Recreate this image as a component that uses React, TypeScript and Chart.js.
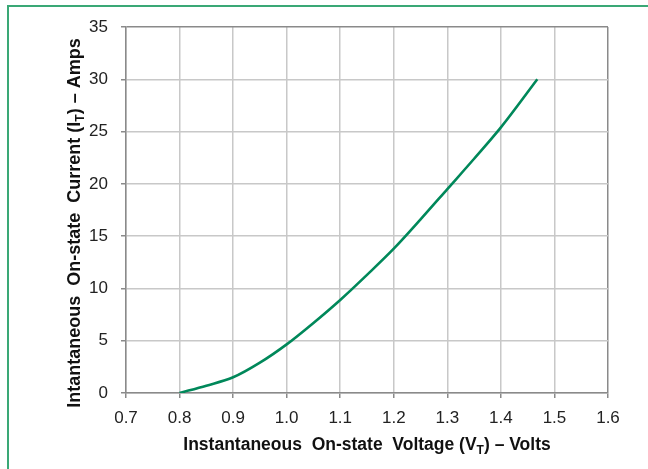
import React, { useEffect, useRef } from "react";
import { Chart, registerables } from "chart.js";

Chart.register(...registerables);

const voltage = [0.8, 0.85, 0.9, 0.95, 1.0, 1.05, 1.1, 1.15, 1.2, 1.25, 1.3, 1.35, 1.4, 1.468];
const current = [0, 0.7, 1.5, 2.9, 4.65, 6.7, 8.9, 11.3, 13.8, 16.6, 19.5, 22.4, 25.4, 30];
const xTicks = [0.7, 0.8, 0.9, 1.0, 1.1, 1.2, 1.3, 1.4, 1.5, 1.6];
const yTicks = [0, 5, 10, 15, 20, 25, 30, 35];
const xTitleParts = [
  { text: "Instantaneous  On-state  Voltage (V" },
  { text: "T", sub: true },
  { text: ") – Volts" },
];
const yTitleParts = [
  { text: "Intantaneous  On-state  Current (I" },
  { text: "T", sub: true },
  { text: ") – Amps" },
];

const FONT = "'Liberation Sans', Arial, sans-serif";
const GREEN = "#00885a";
const GRID = "#c8c8c8";
const FRAME = "#8a8a8a";

type Part = { text: string; sub?: boolean };

function drawRich(ctx: CanvasRenderingContext2D, parts: Part[], cx: number, baseline: number, size: number) {
  const mainFont = `bold ${size}px ${FONT}`;
  const subFont = `bold ${Math.round(size * 0.68)}px ${FONT}`;
  let total = 0;
  const widths = parts.map((p) => {
    ctx.font = p.sub ? subFont : mainFont;
    const w = ctx.measureText(p.text).width;
    total += w;
    return w;
  });
  let x = cx - total / 2;
  ctx.textAlign = "left";
  ctx.textBaseline = "alphabetic";
  ctx.fillStyle = "#111";
  parts.forEach((p, i) => {
    ctx.font = p.sub ? subFont : mainFont;
    ctx.fillText(p.text, x, p.sub ? baseline + 4 : baseline);
    x += widths[i];
  });
}

const titlePlugin = {
  id: "richTitles",
  afterDraw(chart: any) {
    const { ctx, chartArea } = chart;
    ctx.save();
    drawRich(ctx, xTitleParts, (chartArea.left + chartArea.right) / 2, 450, 17.5);
    ctx.restore();
    ctx.save();
    ctx.translate(80, (chartArea.top + chartArea.bottom) / 2 + 13);
    ctx.rotate(-Math.PI / 2);
    drawRich(ctx, yTitleParts, 0, 0, 18);
    ctx.restore();
  },
};

export default function App() {
  const ref = useRef<HTMLCanvasElement>(null);
  useEffect(() => {
    if (!ref.current) return;
    const chart = new Chart(ref.current, {
      type: "line",
      data: {
        datasets: [
          {
            data: voltage.map((v, i) => ({ x: v, y: current[i] })),
            borderColor: GREEN,
            borderWidth: 2.6,
            pointRadius: 0,
            cubicInterpolationMode: "monotone",
            fill: false,
          },
        ],
      },
      options: {
        animation: false,
        responsive: false,
        maintainAspectRatio: false,
        layout: { padding: { left: 0, right: 40, top: 27, bottom: 0 } },
        plugins: { legend: { display: false }, tooltip: { enabled: false } },
        scales: {
          x: {
            type: "linear",
            min: 0.7,
            max: 1.6,
            afterBuildTicks: (scale: any) => {
              scale.ticks = xTicks.map((v) => ({ value: v }));
            },
            afterFit: (scale: any) => {
              scale.height = 76;
            },
            ticks: {
              callback: (v: any) => Number(v).toFixed(1),
              font: { family: FONT, size: 17 },
              color: "#222",
              padding: 10,
              maxRotation: 0,
            },
            grid: {
              color: (c: any) => (c.tick && Math.abs(c.tick.value - 1.6) < 1e-6 ? FRAME : GRID),
              lineWidth: 1.5,
              tickLength: 5,
              tickColor: FRAME,
            },
            border: { color: FRAME, width: 1.5 },
          },
          y: {
            type: "linear",
            min: 0,
            max: 35,
            afterBuildTicks: (scale: any) => {
              scale.ticks = yTicks.map((v) => ({ value: v }));
            },
            afterFit: (scale: any) => {
              scale.width = 126;
            },
            ticks: {
              font: { family: FONT, size: 17 },
              color: "#222",
              padding: 13,
            },
            grid: {
              color: (c: any) => (c.tick && c.tick.value === 35 ? FRAME : GRID),
              lineWidth: 1.5,
              tickLength: 5,
              tickColor: FRAME,
            },
            border: { color: FRAME, width: 1.5 },
          },
        },
      },
      plugins: [titlePlugin],
    } as any);
    return () => chart.destroy();
  }, []);

  return (
    <div style={{ position: "fixed", left: 0, top: 0, width: 648, height: 469, overflow: "hidden", background: "#fff" }}>
      <div
        style={{
          position: "absolute",
          left: 7,
          top: 5,
          width: 700,
          height: 520,
          border: "2px solid #3aa876",
          boxSizing: "border-box",
        }}
      />
      <canvas ref={ref} width={648} height={469} style={{ position: "absolute", left: 0, top: 0, width: 648, height: 469 }} />
    </div>
  );
}
